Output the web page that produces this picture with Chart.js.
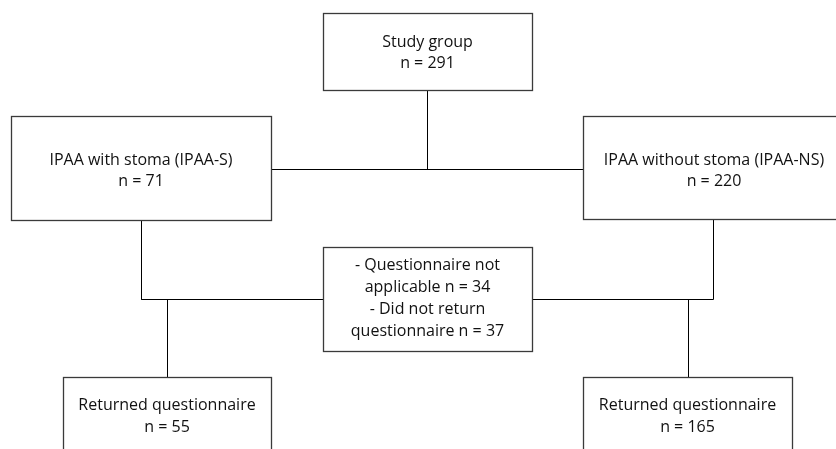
<!DOCTYPE html>
<html>
<head>
<meta charset="utf-8">
<script src="https://cdn.jsdelivr.net/npm/chart.js@4/dist/chart.umd.min.js"></script>
<style>
  html, body { margin: 0; padding: 0; background: #ffffff; }
  #wrap { width: 836px; height: 449px; position: relative; }
</style>
</head>
<body>
<div id="wrap"><canvas id="c"></canvas></div>
<script>
// ---- Content (data) ----
const nodeLabels = ['Study group', 'IPAA with stoma (IPAA-S)', 'IPAA without stoma (IPAA-NS)', 'Returned questionnaire', 'Returned questionnaire'];
const nodeCounts = [291, 71, 220, 55, 165];
const exclusionLabels = ['Questionnaire not applicable', 'Did not return questionnaire'];
const exclusionCounts = [34, 37];

// ---- Layout (scale units: x 0..836, y 0..449 top-down) ----
const boxLayout = [
  { x0: 323, x1: 532, y0: 13,  y1: 90,  ty: 52.5, lh: 21 },   // study group
  { x0: 11,  x1: 271, y0: 116, y1: 220, ty: 170.5, lh: 21 }, // IPAA-S
  { x0: 583, x1: 846, y0: 116, y1: 219, ty: 170.5, lh: 21, tx: 714 }, // IPAA-NS
  { x0: 63,  x1: 271, y0: 377, y1: 470, ty: 416.5, lh: 21.5 }, // returned left
  { x0: 583, x1: 792, y0: 377, y1: 470, ty: 416.5, lh: 21.5 }  // returned right
];
const exclusionLayout = { x0: 323, x1: 532, y0: 247, y1: 351, ty: 298.5, lh: 22, wrap: 178 };
const connectors = [
  [[427.5, 90], [427.5, 169.5]],
  [[271, 169.5], [583, 169.5]],
  [[141.5, 220], [141.5, 299.5], [323, 299.5]],
  [[167.5, 299.5], [167.5, 377]],
  [[532, 299.5], [713.5, 299.5], [713.5, 219]],
  [[688.5, 299.5], [688.5, 377]]
];

const FONT = '16px "Open Sans", Lato, sans-serif';

function wrapText(ctx, text, maxW) {
  const words = text.split(' ');
  const lines = [];
  let cur = '';
  for (const w of words) {
    const t = cur ? cur + ' ' + w : w;
    if (ctx.measureText(t).width > maxW && cur) { lines.push(cur); cur = w; }
    else cur = t;
  }
  if (cur) lines.push(cur);
  return lines;
}

const boxesPlugin = {
  id: 'flowBoxes',
  afterDatasetsDraw(chart) {
    const { ctx, scales: { x, y } } = chart;
    ctx.save();
    ctx.font = FONT;
    ctx.textAlign = 'center';
    ctx.textBaseline = 'middle';
    function drawBox(b, lines) {
      const px0 = Math.round(x.getPixelForValue(b.x0)) + 0.5;
      const px1 = Math.round(x.getPixelForValue(b.x1)) + 0.5;
      const py0 = Math.round(y.getPixelForValue(b.y0)) + 0.5;
      const py1 = Math.round(y.getPixelForValue(b.y1)) + 0.5;
      ctx.fillStyle = '#ffffff';
      ctx.fillRect(px0, py0, px1 - px0, py1 - py0);
      ctx.strokeStyle = '#3a3a3a';
      ctx.lineWidth = 1.3;
      ctx.strokeRect(px0, py0, px1 - px0, py1 - py0);
      const cx = x.getPixelForValue(b.tx !== undefined ? b.tx : (b.x0 + b.x1) / 2);
      const cy = y.getPixelForValue(b.ty);
      ctx.fillStyle = '#111111';
      const startY = cy - (lines.length - 1) * b.lh / 2;
      lines.forEach((l, i) => ctx.fillText(l, cx, startY + i * b.lh));
    }
    boxLayout.forEach((b, i) => drawBox(b, [nodeLabels[i], 'n = ' + nodeCounts[i]]));
    let exLines = [];
    exclusionLabels.forEach((lab, i) => {
      exLines = exLines.concat(wrapText(ctx, '- ' + lab + ' n = ' + exclusionCounts[i], exclusionLayout.wrap));
    });
    drawBox(exclusionLayout, exLines);
    ctx.restore();
  }
};

const datasets = connectors.map(pts => ({
  type: 'line',
  data: pts.map(p => ({ x: p[0], y: p[1] })),
  borderColor: '#000000',
  borderWidth: 1,
  pointRadius: 0,
  fill: false,
  tension: 0
}));

new Chart(document.getElementById('c'), {
  type: 'scatter',
  data: { datasets },
  options: {
    responsive: true,
    maintainAspectRatio: false,
    animation: false,
    layout: { padding: 0 },
    plugins: { legend: { display: false }, tooltip: { enabled: false } },
    scales: {
      x: { type: 'linear', min: 0, max: 836, display: false },
      y: { type: 'linear', min: 0, max: 449, reverse: true, display: false }
    },
    elements: { line: { borderCapStyle: 'butt' } }
  },
  plugins: [boxesPlugin]
});
</script>
</body>
</html>
